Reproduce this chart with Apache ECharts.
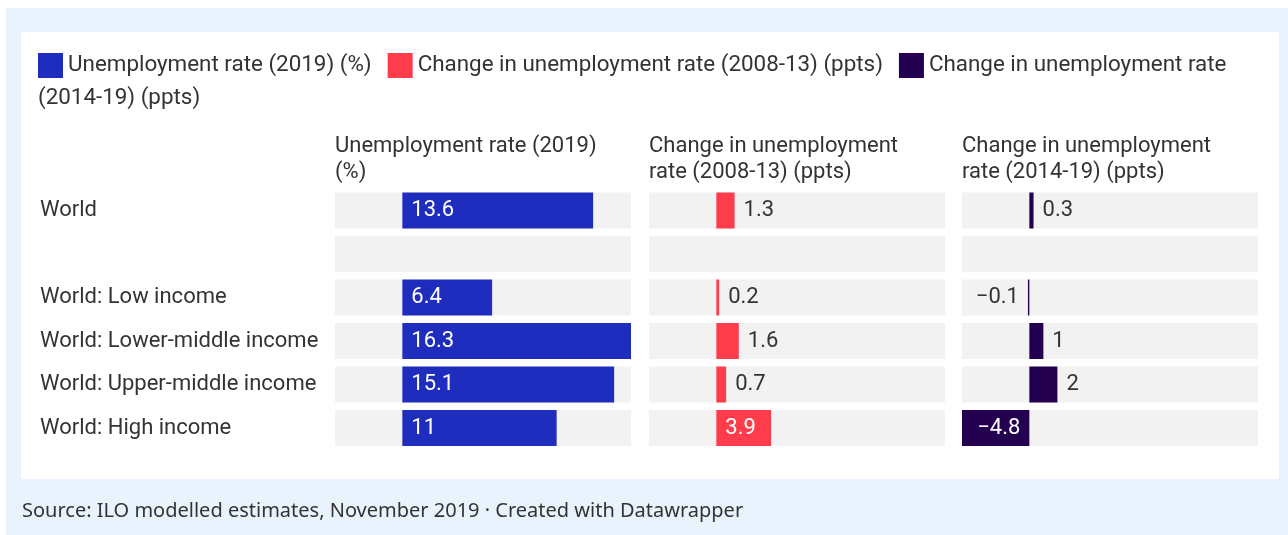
<!DOCTYPE html>
<html><head><meta charset="utf-8">
<script src="https://cdn.jsdelivr.net/npm/echarts@6/dist/echarts.min.js"></script>
<style>html,body{margin:0;padding:0;background:#fff}#c{width:1288px;height:535px}</style>
</head><body><div id="c"></div><script>
const categories = ['World', '', 'World: Low income', 'World: Lower-middle income', 'World: Upper-middle income', 'World: High income'];
const seriesNames = ['Unemployment rate (2019) (%)', 'Change in unemployment rate (2008-13) (ppts)', 'Change in unemployment rate (2014-19) (ppts)'];
const unemployment2019 = [13.6, null, 6.4, 16.3, 15.1, 11];
const change2008_13 = [1.3, null, 0.2, 1.6, 0.7, 3.9];
const change2014_19 = [0.3, null, -0.1, 1, 2, -4.8];
const headers = ['Unemployment rate (2019)\n(%)', 'Change in unemployment\nrate (2008-13) (ppts)', 'Change in unemployment\nrate (2014-19) (ppts)'];
const sourceText = 'Source: ILO modelled estimates, November 2019 · Created with Datawrapper';

const allSeries = [unemployment2019, change2008_13, change2014_19];
const colors = ['#1f2dbf', '#fe3c4c', '#230050'];
const gridLefts = [335, 649, 962];
const gridWidth = 296;
const allVals = allSeries.flat().filter(v => v !== null);
const vMin = Math.min(...allVals), vMax = Math.max(...allVals);
const FONT = 'Roboto';
const FS = 22;

function fmt(v) { return String(v).replace('-', '\u2212'); }
function buildData(arr) {
  return arr.map(v => {
    if (v === null) return '-';
    const inside = Math.abs(v) >= 3;
    return {
      value: v,
      label: {
        position: inside ? (v >= 0 ? 'insideLeft' : 'insideRight') : 'outside',
        color: inside ? '#ffffff' : '#333333'
      }
    };
  });
}

const chart = echarts.init(document.getElementById('c'));
const option = {
  animation: false,
  backgroundColor: '#ffffff',
  graphic: [
    { type: 'rect', left: 6, top: 8, z: -10, shape: { width: 1282, height: 527 }, style: { fill: '#e9f3fd' } },
    { type: 'rect', left: 21, top: 32, z: -9, shape: { width: 1258, height: 447 }, style: { fill: '#ffffff' } }
  ],
  title: headers.map((h, i) => ({
    text: h, left: gridLefts[i], top: 133, padding: 0,
    textStyle: { fontFamily: FONT, fontSize: FS, fontWeight: 'normal', color: '#333', lineHeight: 26 }
  })).concat([
    { text: '(2014-19) (ppts)', left: 38, top: 85, padding: 0,
      textStyle: { fontFamily: FONT, fontSize: 22.4, fontWeight: 'normal', color: '#333', lineHeight: 26 } },
    { text: sourceText, left: 22, top: 499, padding: 0,
      textStyle: { fontFamily: 'Noto Sans', fontSize: 20, fontWeight: 'normal', color: '#333', lineHeight: 24 } }
  ]),
  legend: {
    left: 38, top: 53, padding: 0, itemWidth: 25, itemHeight: 25, itemGap: 16, icon: 'rect',
    selectedMode: false,
    data: seriesNames,
    formatter: n => n === seriesNames[2] ? 'Change in unemployment rate' : n,
    textStyle: { fontFamily: FONT, fontSize: 22.4, color: '#333', padding: [4, 0, 0, 0] }
  },
  grid: gridLefts.map(l => ({ left: l, width: gridWidth, top: 188.75, height: 261 })),
  xAxis: gridLefts.map((l, i) => ({ type: 'value', gridIndex: i, min: vMin, max: vMax, show: false })),
  yAxis: gridLefts.map((l, i) => ({
    type: 'category', gridIndex: i, data: categories, inverse: true,
    show: i === 0,
    axisLine: { show: false }, axisTick: { show: false }, splitLine: { show: false },
    axisLabel: { align: 'left', margin: 295, fontFamily: FONT, fontSize: FS, color: '#333', padding: [4, 0, 0, 0] }
  })),
  series: allSeries.map((arr, i) => ({
    name: seriesNames[i], type: 'bar', xAxisIndex: i, yAxisIndex: i,
    data: buildData(arr), barWidth: 36,
    itemStyle: { color: colors[i] },
    showBackground: true, backgroundStyle: { color: '#f2f2f2' },
    label: { show: true, distance: 9, fontFamily: FONT, fontSize: FS, padding: [2, 0, 0, 0], formatter: p => fmt(p.value) }
  }))
};
chart.setOption(option);
</script></body></html>
